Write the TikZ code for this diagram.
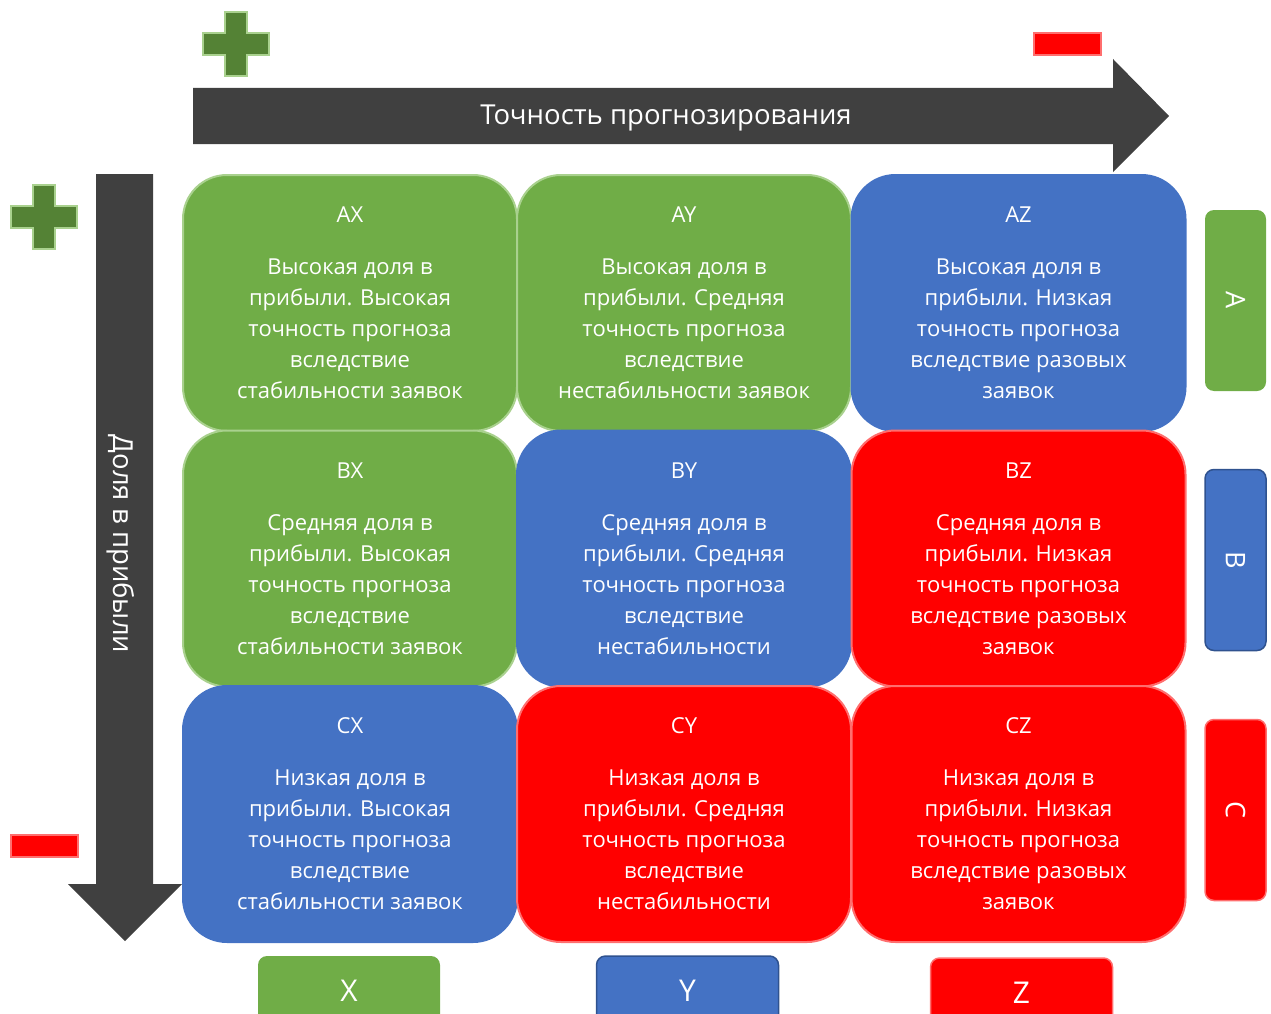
\documentclass[tikz,border=0pt]{standalone}
\usepackage{fontspec}
\setmainfont{Open Sans}
\usetikzlibrary{positioning}
\definecolor{darkarrow}{RGB}{64,64,64}
\definecolor{greencell}{RGB}{112,173,71}
\definecolor{greenedge}{RGB}{169,209,142}
\definecolor{plusgreen}{RGB}{84,130,53}
\definecolor{bluecell}{RGB}{68,114,196}
\definecolor{blueedge}{RGB}{47,82,143}
\definecolor{redcell}{RGB}{255,0,0}
\definecolor{rededge}{RGB}{255,110,110}

\tikzset{
  matcell/.style={rounded corners=44pt, minimum width=334pt, minimum height=256pt,
    inner sep=0pt, text=white, align=center, line width=2pt,
    font=\fontsize{22}{31}\selectfont},
  greenbox/.style={matcell, fill=greencell, draw=greenedge},
  bluebox/.style={matcell, fill=bluecell, draw=bluecell},
  redbox/.style={matcell, fill=redcell, draw=rededge},
  tagbox/.style={rounded corners=9pt, inner sep=0pt, text=white, line width=1.5pt},
  sidetag/.style={tagbox, minimum width=181pt, minimum height=61pt, rotate=-90,
    font=\fontsize{27}{30}\selectfont},
  bottomtag/.style={tagbox, minimum width=182pt, minimum height=70pt,
    font=\fontsize{30}{32}\selectfont},
  axislabel/.style={text=white, inner sep=0pt, font=\fontsize{27.5}{29}\selectfont},
  plusmark/.pic={
    \filldraw[fill=plusgreen, draw=greenedge, line width=2pt]
      (-11,-32) -- (11,-32) -- (11,-11) -- (33,-11) -- (33,11) -- (11,11)
      -- (11,32) -- (-11,32) -- (-11,11) -- (-33,11) -- (-33,-11) -- (-11,-11) -- cycle;
  },
}

\begin{document}
\begin{tikzpicture}[x=1pt, y=-1pt]
  \useasboundingbox (0,0) rectangle (1271,1014);

  % plus and minus marks
  \pic at (236,44.5) {plusmark};
  \pic at (44,216.5) {plusmark};
  \filldraw[fill=redcell, draw=rededge, line width=2pt] (1034,33) rectangle (1101,55);
  \filldraw[fill=redcell, draw=rededge, line width=2pt] (11,835) rectangle (78,857);

  % axis arrows
  \fill[darkarrow] (193,88) -- (1113,88) -- (1113,59) -- (1169,116) -- (1113,172)
    -- (1113,144) -- (193,144) -- cycle;
  \node[axislabel] (accuracy) at (666,118) {Точность прогнозирования};
  \fill[darkarrow] (96,174) -- (153,174) -- (153,884) -- (182,884) -- (125,941)
    -- (68,884) -- (96,884) -- cycle;
  \node[axislabel, rotate=-90] (share) at (121,544) {Доля в прибыли};

  % matrix cells
  \node[greenbox] (ax) at (350,303) {AX\\[21pt]Высокая доля в\\прибыли. Высокая\\точность прогноза\\вследствие\\стабильности заявок};
  \node[greenbox] (ay) at (684,303) {AY\\[21pt]Высокая доля в\\прибыли. Средняя\\точность прогноза\\вследствие\\нестабильности заявок};
  \node[bluebox] (az) at (1018.5,303) {AZ\\[21pt]Высокая доля в\\прибыли. Низкая\\точность прогноза\\вследствие разовых\\заявок};
  \node[greenbox] (bx) at (350,558.5) {BX\\[21pt]Средняя доля в\\прибыли. Высокая\\точность прогноза\\вследствие\\стабильности заявок};
  \node[bluebox] (by) at (684,558.5) {BY\\[21pt]Средняя доля в\\прибыли. Средняя\\точность прогноза\\вследствие\\нестабильности};
  \node[redbox] (bz) at (1018.5,558.5) {BZ\\[21pt]Средняя доля в\\прибыли. Низкая\\точность прогноза\\вследствие разовых\\заявок};
  \node[bluebox] (cx) at (350,814) {CX\\[21pt]Низкая доля в\\прибыли. Высокая\\точность прогноза\\вследствие\\стабильности заявок};
  \node[redbox] (cy) at (684,814) {CY\\[21pt]Низкая доля в\\прибыли. Средняя\\точность прогноза\\вследствие\\нестабильности};
  \node[redbox] (cz) at (1018.5,814) {CZ\\[21pt]Низкая доля в\\прибыли. Низкая\\точность прогноза\\вследствие разовых\\заявок};

  % row tags
  \node[sidetag, fill=greencell] (taga) at (1235.5,300.5) {A};
  \node[sidetag, fill=bluecell, draw=blueedge] (tagb) at (1235.5,560) {B};
  \node[sidetag, fill=redcell, draw=rededge] (tagc) at (1235.5,810) {C};

  % column tags
  \node[bottomtag, fill=greencell] (tagx) at (349,991) {X};
  \node[bottomtag, fill=bluecell, draw=blueedge] (tagy) at (687.5,991) {Y};
  \node[bottomtag, fill=redcell, draw=rededge] (tagz) at (1021.5,993) {Z};
\end{tikzpicture}
\end{document}
